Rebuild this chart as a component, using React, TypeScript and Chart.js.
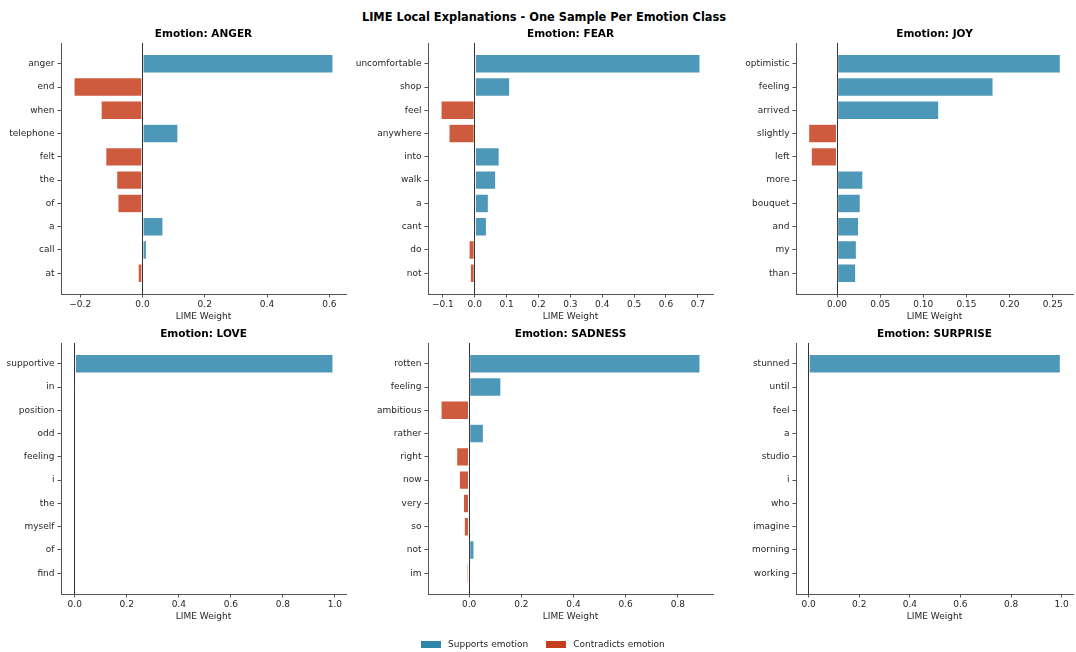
import React, { useEffect, useRef } from 'react';
import { Chart, registerables } from 'chart.js';
Chart.register(...registerables);

// ---------- DATA ----------
const mainTitle = 'LIME Local Explanations - One Sample Per Emotion Class';
const xAxisLabel = 'LIME Weight';
const legendLabels = ['Supports emotion', 'Contradicts emotion'];

const angerWords = ['anger', 'end', 'when', 'telephone', 'felt', 'the', 'of', 'a', 'call', 'at'];
const angerWeights = [0.612, -0.22, -0.133, 0.114, -0.118, -0.083, -0.079, 0.066, 0.013, -0.014];
const angerTicks = [-0.2, 0, 0.2, 0.4, 0.6];

const fearWords = ['uncomfortable', 'shop', 'feel', 'anywhere', 'into', 'walk', 'a', 'cant', 'do', 'not'];
const fearWeights = [0.707, 0.11, -0.106, -0.081, 0.077, 0.066, 0.043, 0.037, -0.018, -0.014];
const fearTicks = [-0.1, 0, 0.1, 0.2, 0.3, 0.4, 0.5, 0.6, 0.7];

const joyWords = ['optimistic', 'feeling', 'arrived', 'slightly', 'left', 'more', 'bouquet', 'and', 'my', 'than'];
const joyWeights = [0.259, 0.181, 0.118, -0.033, -0.03, 0.03, 0.027, 0.025, 0.0225, 0.0217];
const joyTicks = [0, 0.05, 0.1, 0.15, 0.2, 0.25];

const loveWords = ['supportive', 'in', 'position', 'odd', 'feeling', 'i', 'the', 'myself', 'of', 'find'];
const loveWeights = [0.993, -0.003, 0, 0, 0, 0, 0, 0, 0, 0];
const loveTicks = [0, 0.2, 0.4, 0.6, 0.8, 1.0];

const sadnessWords = ['rotten', 'feeling', 'ambitious', 'rather', 'right', 'now', 'very', 'so', 'not', 'im'];
const sadnessWeights = [0.885, 0.122, -0.108, 0.055, -0.048, -0.038, -0.022, -0.019, 0.019, -0.008];
const sadnessTicks = [0, 0.2, 0.4, 0.6, 0.8];

const surpriseWords = ['stunned', 'until', 'feel', 'a', 'studio', 'i', 'who', 'imagine', 'morning', 'working'];
const surpriseWeights = [0.995, 0, 0, 0, 0, 0, 0, 0, 0, 0];
const surpriseTicks = [0, 0.2, 0.4, 0.6, 0.8, 1.0];

// ---------- STYLE ----------
const FONT = 'DejaVu Sans';
const BLUE = '#2E86AB';
const RED = '#C73E1D';
const BLUE_BAR = 'rgba(46,134,171,0.85)';
const RED_BAR = 'rgba(199,62,29,0.85)';
const AXIS = '#555555';
const TEXT = '#262626';

const YW = 90;
const PADR = 8;
const TB = 19;
const XH = 30;

type PanelProps = {
  title: string;
  words: string[];
  weights: number[];
  ticks: number[];
  decimals: number;
  L: number;
  T: number;
  R: number;
  B: number;
};

function fmt(v: number, d: number) {
  const s = Math.abs(v).toFixed(d);
  return v < -1e-12 ? '\u2212' + s : s;
}

function Panel(p: PanelProps) {
  const ref = useRef<HTMLCanvasElement>(null);
  const width = YW + (p.R - p.L) + PADR;
  const height = TB + (p.B - p.T) + XH;

  useEffect(() => {
    const lo = Math.min(0, ...p.weights);
    const hi = Math.max(0, ...p.weights);
    const m = (hi - lo) * 0.05;
    const n = p.words.length;
    const yLo = -0.4;
    const yHi = n - 1 + 0.4;
    const ym = (yHi - yLo) * 0.05;
    const chart = new Chart(ref.current as HTMLCanvasElement, {
      type: 'bar',
      data: {
        datasets: [
          {
            data: p.weights.map((v, i) => ({ x: v, y: i })) as any,
            backgroundColor: p.weights.map((v) => (v >= 0 ? BLUE_BAR : RED_BAR)),
            borderColor: 'rgba(255,255,255,0.5)',
            borderWidth: 0.6,
            borderSkipped: false,
            barPercentage: 0.8,
            categoryPercentage: 1,
          } as any,
        ],
      },
      options: {
        indexAxis: 'y',
        animation: false,
        responsive: false,
        devicePixelRatio: 1,
        layout: { padding: { left: 0, right: PADR, top: 0, bottom: 0 } },
        plugins: {
          legend: { display: false },
          tooltip: { enabled: false },
          title: {
            display: true,
            text: p.title,
            fullSize: false,
            color: '#000',
            font: { family: FONT, size: 10.5, weight: 'bold' },
            padding: { top: 4.4, bottom: 2 },
          },
        },
        scales: {
          x: {
            type: 'linear',
            min: lo - m,
            max: hi + m,
            offset: false,
            afterBuildTicks: (s: any) => {
              s.ticks = p.ticks.map((v) => ({ value: v }));
            },
            afterFit: (s: any) => {
              s.height = XH;
            },
            ticks: {
              autoSkip: false,
              maxRotation: 0,
              padding: 1.5,
              color: TEXT,
              font: { family: FONT, size: 9 },
              callback: (v: any) => fmt(Number(v), p.decimals),
            },
            grid: {
              offset: false,
              drawOnChartArea: true,
              color: (c: any) => (c.tick && Math.abs(c.tick.value) < 1e-9 ? '#333333' : 'rgba(0,0,0,0)'),
              lineWidth: 1,
              tickColor: AXIS,
              tickLength: 3.5,
              tickWidth: 1,
            },
            border: { display: true, color: AXIS, width: 1 },
            title: {
              display: true,
              text: xAxisLabel,
              color: TEXT,
              font: { family: FONT, size: 9 },
              padding: { top: 0, bottom: 2 },
            },
          },
          y: {
            type: 'linear',
            reverse: true,
            offset: false,
            min: yLo - ym,
            max: yHi + ym,
            afterBuildTicks: (s: any) => {
              s.ticks = p.words.map((_, i) => ({ value: i }));
            },
            afterFit: (s: any) => {
              s.width = YW;
            },
            ticks: {
              autoSkip: false,
              padding: 3,
              color: TEXT,
              font: { family: FONT, size: 9 },
              callback: (v: any) => p.words[Number(v)] ?? '',
            },
            grid: {
              offset: false,
              drawOnChartArea: false,
              tickColor: AXIS,
              tickLength: 3.5,
              tickWidth: 1,
            },
            border: { display: true, color: AXIS, width: 1 },
          },
        },
      } as any,
    });
    return () => chart.destroy();
  }, []);

  return (
    <canvas
      ref={ref}
      width={width}
      height={height}
      style={{ position: 'absolute', left: p.L - YW, top: p.T - TB, width, height }}
    />
  );
}

const COLS = [
  { L: 61, R: 346 },
  { L: 428, R: 713 },
  { L: 796, R: 1073 },
];
const ROWS = [
  { T: 43, B: 294 },
  { T: 343, B: 594 },
];

export default function App() {
  const panels = [
    { title: 'Emotion: ANGER', words: angerWords, weights: angerWeights, ticks: angerTicks, decimals: 1 },
    { title: 'Emotion: FEAR', words: fearWords, weights: fearWeights, ticks: fearTicks, decimals: 1 },
    { title: 'Emotion: JOY', words: joyWords, weights: joyWeights, ticks: joyTicks, decimals: 2 },
    { title: 'Emotion: LOVE', words: loveWords, weights: loveWeights, ticks: loveTicks, decimals: 1 },
    { title: 'Emotion: SADNESS', words: sadnessWords, weights: sadnessWeights, ticks: sadnessTicks, decimals: 1 },
    { title: 'Emotion: SURPRISE', words: surpriseWords, weights: surpriseWeights, ticks: surpriseTicks, decimals: 1 },
  ];
  return (
    <div
      style={{
        position: 'fixed',
        left: 0,
        top: 0,
        width: 1076,
        height: 652,
        background: '#fff',
        overflow: 'hidden',
        fontFamily: FONT,
      }}
    >
      <div
        style={{
          position: 'absolute',
          left: 544,
          top: 10,
          transform: 'translateX(-50%)',
          whiteSpace: 'nowrap',
          fontSize: 11.4,
          fontWeight: 'bold',
          color: '#000',
          lineHeight: '14px',
        }}
      >
        {mainTitle}
      </div>
      {panels.map((pp, i) => {
        const c = COLS[i % 3];
        const r = ROWS[Math.floor(i / 3)];
        return <Panel key={pp.title} {...pp} L={c.L} R={c.R} T={r.T} B={r.B} />;
      })}
      <div
        style={{
          position: 'absolute',
          left: 421,
          top: 638,
          display: 'flex',
          alignItems: 'center',
          fontSize: 9,
          color: TEXT,
          lineHeight: '12px',
          whiteSpace: 'nowrap',
        }}
      >
        <span style={{ display: 'inline-block', width: 20, height: 7, background: BLUE, marginRight: 7 }} />
        <span style={{ marginRight: 18 }}>{legendLabels[0]}</span>
        <span style={{ display: 'inline-block', width: 20, height: 7, background: RED, marginRight: 7 }} />
        <span>{legendLabels[1]}</span>
      </div>
    </div>
  );
}
